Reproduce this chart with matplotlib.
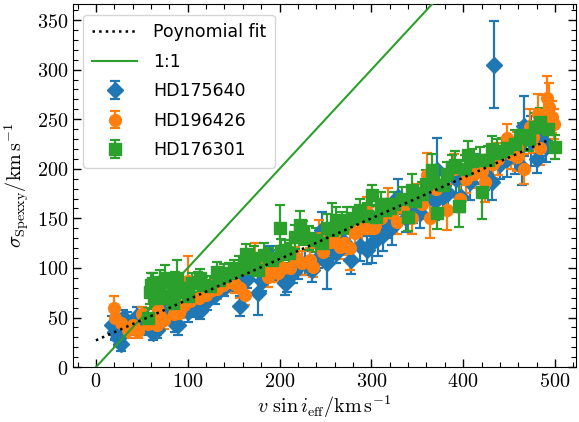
import numpy as np
import matplotlib
matplotlib.use("Agg")
import matplotlib.pyplot as plt
from matplotlib.ticker import MultipleLocator, FuncFormatter

plt.rcParams['mathtext.fontset'] = 'cm'

# ---------------- data ----------------
b_x = [18, 21, 24, 27, 30, 34, 38, 45, 50, 56, 62, 66, 74, 86, 89, 100, 106, 111, 113, 121,
       130, 140, 148, 157, 165, 177, 181, 190, 196, 206, 208, 215, 220, 228, 235, 242, 246, 252,
       258, 262, 270, 278, 288, 295, 301, 307, 313, 318, 323, 329, 338, 345, 353, 362, 369, 371,
       378, 383, 392, 398, 407, 414, 424, 431, 434, 440, 448, 456, 464, 466, 474, 480, 486, 490]
b_y = [43, 35, 29, 23, 50, 47, 40, 52, 40, 47, 34, 37, 55, 44, 42, 56, 60, 61, 57, 67,
       73, 80, 85, 62, 89, 75, 87, 112, 97, 85, 86, 95, 101, 105, 98, 110, 138, 105,
       117, 115, 126, 108, 122, 118, 125, 130, 133, 145, 141, 172, 150, 160, 155, 180, 168, 199,
       172, 176, 190, 172, 187, 200, 195, 187, 305, 205, 210, 213, 202, 243, 228, 210, 229, 222]
b_e = [9, 8, 8, 7, 8, 9, 8, 9, 8, 7, 7, 8, 8, 9, 10, 10, 9, 9, 8, 9,
       9, 8, 9, 10, 9, 22, 10, 10, 9, 12, 10, 10, 12, 12, 12, 10, 18, 26,
       12, 10, 12, 14, 15, 14, 20, 18, 16, 15, 18, 18, 14, 15, 15, 16, 20, 32,
       14, 18, 14, 16, 18, 15, 16, 18, 44, 15, 18, 18, 18, 30, 25, 14, 16, 15]

o_x = [20, 21, 27, 35, 40, 46, 50, 57, 62, 66, 68, 70, 74, 85, 90, 92, 96, 100, 103, 112,
       118, 120, 126, 132, 138, 145, 152, 157, 162, 168, 173, 180, 187, 193, 198, 204, 211, 217,
       224, 233, 236, 243, 247, 255, 260, 266, 270, 277, 282, 290, 295, 297, 303, 310, 318, 322,
       328, 335, 344, 350, 355, 361, 364, 370, 378, 382, 390, 397, 403, 412, 420, 424, 432, 438,
       448, 452, 459, 459, 466, 473, 476, 482, 484, 488, 491, 494, 497, 499]
o_y = [60, 50, 45, 37, 42, 36, 54, 44, 50, 42, 58, 52, 48, 54, 55, 58, 63, 87, 67, 70,
       75, 73, 78, 79, 83, 86, 84, 80, 73, 100, 110, 100, 91, 98, 95, 100, 100, 111,
       105, 108, 101, 130, 116, 126, 126, 121, 125, 120, 135, 140, 156, 148, 140, 150, 165, 155,
       146, 160, 150, 170, 165, 194, 150, 180, 185, 158, 200, 170, 190, 195, 198, 187, 205, 210,
       231, 215, 221, 212, 200, 242, 232, 255, 221, 250, 271, 262, 252, 245]
o_e = [12, 9, 9, 8, 9, 7, 7, 8, 9, 10, 12, 10, 10, 9, 9, 8, 10, 25, 10, 9,
       10, 12, 10, 10, 9, 10, 9, 10, 10, 12, 15, 12, 10, 12, 9, 10, 10, 10,
       12, 12, 10, 18, 12, 12, 11, 12, 12, 22, 12, 15, 16, 14, 12, 14, 16, 13,
       12, 14, 16, 15, 16, 22, 20, 16, 12, 20, 15, 14, 14, 14, 16, 20, 14, 16,
       14, 15, 16, 14, 15, 18, 16, 20, 17, 24, 23, 25, 16, 15]

g_x = [57, 59, 60, 62, 63, 64, 66, 70, 75, 78, 84, 86, 88, 92, 96, 100, 105, 111, 113, 117,
       124, 132, 134, 140, 145, 150, 156, 162, 164, 166, 172, 176, 183, 188, 192, 200, 202, 206,
       210, 217, 222, 226, 232, 240, 246, 252, 257, 262, 268, 273, 280, 288, 295, 301, 305, 311,
       315, 320, 325, 333, 340, 344, 348, 355, 360, 366, 367, 372, 378, 382, 388, 391, 396, 402,
       405, 410, 418, 420, 427, 431, 437, 442, 448, 456, 464, 472, 478, 484, 492, 500]
g_y = [50, 76, 83, 85, 72, 70, 80, 86, 90, 70, 65, 82, 90, 78, 80, 72, 85, 86, 90, 83,
       82, 96, 88, 92, 95, 98, 100, 103, 114, 100, 110, 98, 113, 110, 108, 140, 117, 118,
       115, 131, 143, 135, 130, 128, 125, 140, 138, 148, 141, 148, 150, 158, 152, 174, 151, 165,
       158, 160, 165, 170, 151, 179, 168, 175, 185, 199, 187, 155, 184, 195, 202, 204, 163, 200,
       214, 208, 209, 177, 209, 220, 216, 218, 221, 225, 234, 230, 242, 247, 240, 222]
g_e = [10, 12, 12, 10, 10, 11, 10, 12, 13, 12, 14, 14, 18, 12, 10, 10, 10, 10, 9, 8,
       10, 10, 10, 12, 10, 10, 12, 12, 10, 10, 12, 10, 12, 10, 10, 24, 12, 10,
       10, 12, 14, 12, 12, 12, 11, 14, 28, 14, 15, 14, 12, 12, 14, 10, 12, 12,
       12, 10, 12, 12, 14, 16, 13, 12, 14, 16, 14, 16, 14, 12, 12, 14, 22, 14,
       14, 12, 13, 28, 14, 13, 14, 13, 12, 14, 12, 12, 14, 14, 12, 12]

fit_coef = [0.41, 27.0]          # slope, intercept of the plotted fit
fit_range = [0, 495]
one_to_one = [0, 400]

series_names = ['HD175640', 'HD196426', 'HD176301']

# ---------------- plot ----------------
fig = plt.figure(figsize=(5.79, 4.22), dpi=100)
ax = fig.add_axes([0.126, 0.130, 0.869, 0.860])

colors = ['#1f77b4', '#ff7f0e', '#2ca02c']
markers = ['D', 'o', 's']
sizes = [8, 8.5, 8]
handles = []
for (x, y, e), c, m, s, name in zip([(b_x, b_y, b_e), (o_x, o_y, o_e), (g_x, g_y, g_e)],
                                     colors, markers, sizes, series_names):
    h = ax.errorbar(x, y, yerr=e, fmt=m, color=c, ms=s, capsize=3.5,
                    elinewidth=1.6, capthick=1.6, label=name, zorder=2)
    handles.append(h)

xf = np.linspace(fit_range[0], fit_range[1], 200)
lf, = ax.plot(xf, np.polyval(fit_coef, xf), ls=':', color='black', lw=1.8,
              label='Poynomial fit', zorder=4)
l1, = ax.plot(one_to_one, one_to_one, '-', color='#2ca02c', lw=1.5, label='1:1', zorder=3)

ax.set_xlim(-25, 523)
ax.set_ylim(0, 366)

ax.xaxis.set_major_locator(MultipleLocator(100))
ax.xaxis.set_minor_locator(MultipleLocator(20))
ax.yaxis.set_major_locator(MultipleLocator(50))
ax.yaxis.set_minor_locator(MultipleLocator(10))
fmt = FuncFormatter(lambda v, p: r'$%d$' % round(v))
ax.xaxis.set_major_formatter(fmt)
ax.yaxis.set_major_formatter(fmt)
ax.tick_params(which='both', direction='in', top=True, right=True, labelsize=14.5)
ax.tick_params(which='major', length=6, width=1)
ax.tick_params(which='minor', length=3.5, width=0.8)

ax.set_xlabel(r'$v\ \sin i_{\rm eff}/{\rm km\,s^{-1}}$', fontsize=14.5, labelpad=2)
ax.set_ylabel(r'$\sigma_{\rm Spexxy}/{\rm km\,s^{-1}}$', fontsize=14.5, labelpad=4)

ax.legend(handles=[lf, l1] + handles, loc='upper left', fontsize=12.5,
          borderaxespad=0.6, handlelength=2.6, labelspacing=0.66,
          handletextpad=0.9, borderpad=0.5)

fig.savefig('out.png', dpi=100)
